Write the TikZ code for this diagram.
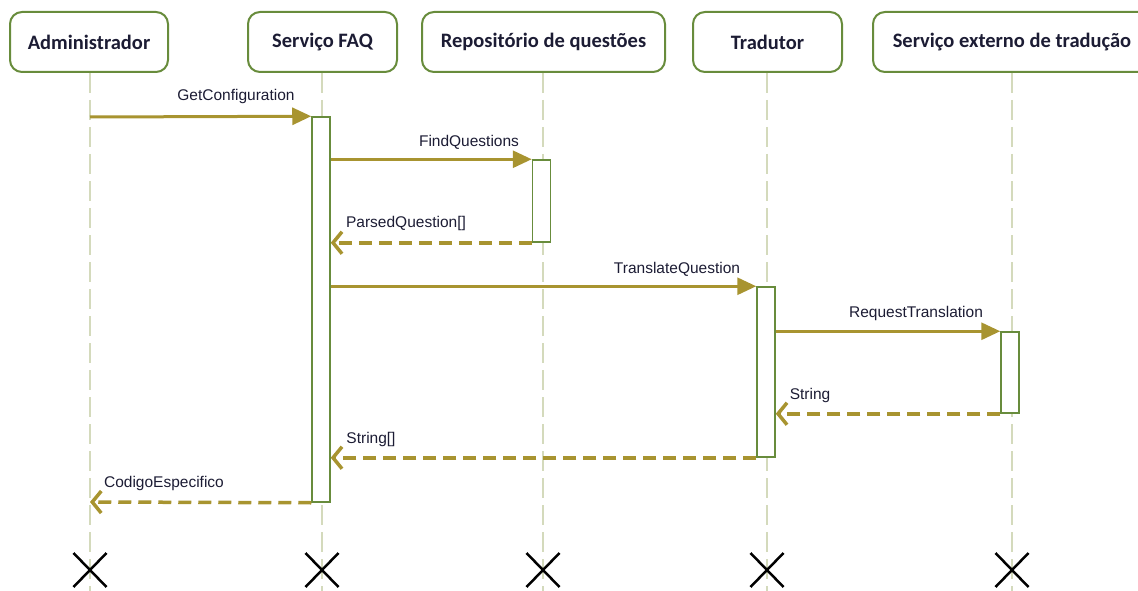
\documentclass[tikz,border=0pt]{standalone}
\usepackage{fontspec}
\setmainfont{Liberation Sans}
\newfontfamily\headfont{Carlito}
\usetikzlibrary{arrows.meta}
\definecolor{boxgreen}{RGB}{104,140,60}
\definecolor{msgcol}{RGB}{168,148,48}
\definecolor{lifecol}{RGB}{212,218,188}
\definecolor{inkcol}{RGB}{28,28,52}
\begin{document}
\begin{tikzpicture}[x=1pt,y=-1pt,
  actor/.style={draw=boxgreen, line width=2pt, rounded corners=12pt, fill=white,
    minimum height=60pt, inner sep=0pt, text=inkcol,
    font=\headfont\bfseries\fontsize{20.5}{24}\selectfont},
  lifeline/.style={draw=lifecol, line width=2.2pt, dash pattern=on 20pt off 7pt},
  activation/.style={draw=boxgreen, line width=1.5pt, fill=white,
    minimum width=18pt, inner sep=0pt},
  call/.style={draw=msgcol, line width=3pt, -{Triangle[length=19pt,width=17pt]}},
  reply/.style={draw=msgcol, line width=3.5pt, dash pattern=on 13pt off 7pt,
    -{Straight Barb[length=9pt,width=22pt,line width=3.5pt]}},
  msglabel/.style={anchor=base, text=inkcol, inner sep=0pt,
    font=\fontsize{15.5}{18}\selectfont},
  endmark/.style={draw=black, line width=2.5pt}
]
\useasboundingbox (0,0) rectangle (1138,591);
\clip (0,0) rectangle (1138,591);

% participants
\node[actor, minimum width=158pt] (admin) at (89,42)   {Administrador};
\node[actor, minimum width=149pt] (faq)   at (322.5,42) {Serviço FAQ};
\node[actor, minimum width=243pt] (repo)  at (543.5,42) {Repositório de questões};
\node[actor, minimum width=149pt] (trad)  at (767.5,42) {Tradutor};
\node[actor, minimum width=278pt] (ext)   at (1012,42)  {Serviço externo de tradução};

% lifelines
\foreach \p/\x in {admin/90, faq/322, repo/543, trad/767, ext/1012}{
  \coordinate (\p-end) at (\x,591);
  \draw[lifeline] (\p.south -| \p-end) -- (\p-end);
}

% activation bars
\node[activation, minimum height=385pt] (faqact)  at (321,309.5) {};
\node[activation, minimum height=82pt]  (repoact) at (541.5,201) {};
\node[activation, minimum height=170pt] (tradact) at (766,372)   {};
\node[activation, minimum height=81pt]  (extact)  at (1010,372.5) {};

% free ends on the administrator lifeline
\coordinate (adminout) at (90,117);
\coordinate (adminin)  at (90,502);

% messages
\draw[call]  (adminout) -- (faqact.north west);
\draw[call]  (faqact.east |- repoact.north) -- (repoact.north west);
\draw[reply] (repoact.south west) -- (faqact.east |- repoact.south);
\draw[call]  (faqact.east |- tradact.north) -- (tradact.north west);
\draw[call]  (tradact.east |- extact.north) -- (extact.north west);
\draw[reply] (extact.south west) -- (tradact.east |- extact.south);
\draw[reply] (tradact.south west) -- (faqact.east |- tradact.south);
\draw[reply] (faqact.south west) -- (adminin);

% message labels
\node[msglabel] (l1) at (236,101) {GetConfiguration};
\node[msglabel] (l2) at (469,147) {FindQuestions};
\node[msglabel] (l3) at (406,227) {ParsedQuestion[]};
\node[msglabel] (l4) at (677,273) {TranslateQuestion};
\node[msglabel] (l5) at (916,317) {RequestTranslation};
\node[msglabel] (l6) at (810,399) {String};
\node[msglabel] (l7) at (371,443) {String[]};
\node[msglabel] (l8) at (164,487) {CodigoEspecifico};

% destruction marks
\foreach \p in {admin, faq, repo, trad, ext}{
  \draw[endmark] ([shift={(-16.5,-17)}]\p-end |- 0,570) -- ([shift={(16.5,17)}]\p-end |- 0,570);
  \draw[endmark] ([shift={(-16.5,17)}]\p-end |- 0,570) -- ([shift={(16.5,-17)}]\p-end |- 0,570);
}
\end{tikzpicture}
\end{document}
